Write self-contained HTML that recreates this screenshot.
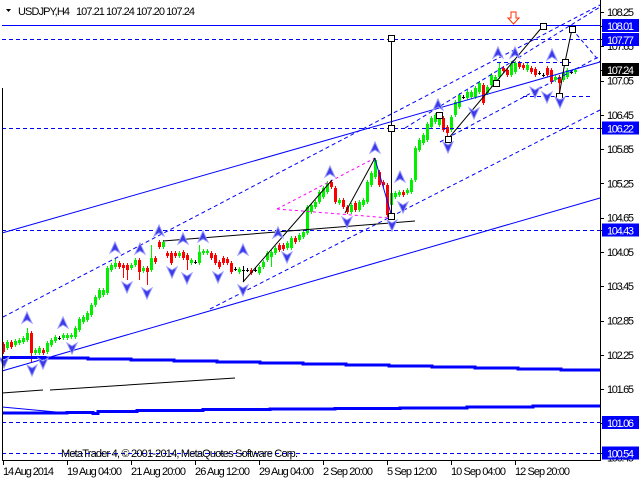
<!DOCTYPE html>
<html><head><meta charset="utf-8"><style>
html,body{margin:0;padding:0;background:#fff;}
svg{display:block;font-family:"Liberation Sans",sans-serif;}
</style></head><body>
<svg id="c" width="640" height="480" viewBox="0 0 640 480" xmlns="http://www.w3.org/2000/svg">
<rect width="640" height="480" fill="#fff"/>
<g id="candles"></g>
<g fill="none" stroke="#0000ff" stroke-width="1">
  <line x1="2" y1="25.5" x2="601" y2="25.5"/>
  <line x1="2" y1="39.5" x2="601" y2="39.5" stroke-dasharray="4,3"/>
  <line x1="2" y1="128.5" x2="601" y2="128.5" stroke-dasharray="4,3"/>
  <line x1="2" y1="230.5" x2="601" y2="230.5" stroke-dasharray="4,3"/>
  <line x1="2" y1="422.5" x2="601" y2="422.5" stroke-dasharray="4,3"/>
  <line x1="2" y1="453.5" x2="601" y2="453.5" stroke-dasharray="4,3"/>
  <line x1="497" y1="62.5" x2="572" y2="62.5" stroke-dasharray="4,3"/>
  <line x1="523" y1="96.5" x2="592" y2="96.5" stroke-dasharray="4,3"/>
  <line x1="2" y1="233" x2="600" y2="62"/>
  <line x1="2" y1="371" x2="600" y2="198"/>
  <line x1="3" y1="317" x2="600" y2="5" stroke-dasharray="4,3"/>
  <line x1="210" y1="309" x2="600" y2="110" stroke-dasharray="4,3"/>
  <line x1="405" y1="128" x2="600" y2="7" stroke-dasharray="4,3"/>
  <line x1="440" y1="142" x2="600" y2="56" stroke-dasharray="4,3"/>
  <line x1="572" y1="29" x2="600" y2="62" stroke-dasharray="4,3"/>
  <line x1="375" y1="159" x2="392" y2="217"/>
  <line x1="2" y1="407" x2="67" y2="413"/>
  <path stroke-width="3" d="M2,357.5 H45 V358 H88 V359 H131 V360 H174 V361 H217 V362 H260 V363 H303 V364 H346 V365 H389 V366 H432 V367 H475 V368 H518 V369 H561 V370 H601"/>
  <path stroke-width="3" d="M2,413 H67 V412.5 H93 V413.5 H98 V411.5 H137 V410.5 H203 V409.5 H270 V409 H335 V408.5 H400 V408 H467 V407 H533 V406 H601"/>
</g>
<g fill="none" stroke="#ff00ff" stroke-width="1" stroke-dasharray="3,3">
  <line x1="277" y1="209" x2="375" y2="158"/>
  <line x1="277" y1="209" x2="390" y2="218"/>
</g>
<g fill="none" stroke="#000" stroke-width="1">
  <line x1="2" y1="393" x2="43" y2="390"/>
  <line x1="50" y1="390" x2="235" y2="378"/>
  <line x1="163" y1="241" x2="415" y2="221"/>
  <line x1="243" y1="282" x2="332" y2="180"/>
  <line x1="345" y1="213" x2="375" y2="158"/>
  <line x1="391.5" y1="38" x2="391.5" y2="216"/>
  <line x1="448" y1="139" x2="543" y2="26"/>
  <polyline points="559,96 565,62 572,29"/>
  <rect x="388.5" y="35.5" width="6" height="6" fill="#fff"/>
  <rect x="388.5" y="125.5" width="6" height="6" fill="#fff"/>
  <rect x="388.5" y="213.5" width="6" height="6" fill="#fff"/>
  <rect x="540.5" y="23.5" width="6" height="6" fill="#fff"/>
  <rect x="569.5" y="26.5" width="6" height="6" fill="#fff"/>
  <rect x="562.5" y="59.5" width="6" height="6" fill="#fff"/>
  <rect x="556.5" y="93.5" width="6" height="6" fill="#fff"/>
  <rect x="445.5" y="136.5" width="6" height="6" fill="#fff"/>
  <rect x="436.5" y="112.5" width="6" height="6" fill="#fff"/>
  <rect x="493.5" y="80.5" width="6" height="6" fill="#fff"/>
</g>
<polygon points="511,12 516,12 516,18 519,18 513.5,24 508,18 511,18" fill="#fff" stroke="#ff3000" stroke-width="1"/>
<g id="arrows"></g>
<g stroke="#000" stroke-width="1" shape-rendering="crispEdges">
  <line x1="2.5" y1="88" x2="2.5" y2="461"/>
  <line x1="600.5" y1="0" x2="600.5" y2="461"/>
  <line x1="2" y1="460.5" x2="601" y2="460.5"/>
  <line x1="3.5" y1="460" x2="3.5" y2="465"/>
  <line x1="67.5" y1="460" x2="67.5" y2="465"/>
  <line x1="131.5" y1="460" x2="131.5" y2="465"/>
  <line x1="195.5" y1="460" x2="195.5" y2="465"/>
  <line x1="259.5" y1="460" x2="259.5" y2="465"/>
  <line x1="323.5" y1="460" x2="323.5" y2="465"/>
  <line x1="387.5" y1="460" x2="387.5" y2="465"/>
  <line x1="451.5" y1="460" x2="451.5" y2="465"/>
  <line x1="515.5" y1="460" x2="515.5" y2="465"/>
</g>
<g id="pticks" stroke="#000" stroke-width="1" shape-rendering="crispEdges"></g>
<g font-size="11" fill="#000">
  <text x="607" y="16" textLength="27">108.25</text>
  <text x="607" y="50" textLength="27">107.65</text>
  <text x="607" y="84.5" textLength="27">107.05</text>
  <text x="607" y="119" textLength="27">106.45</text>
  <text x="607" y="153" textLength="27">105.85</text>
  <text x="607" y="187.5" textLength="27">105.25</text>
  <text x="607" y="221.5" textLength="27">104.65</text>
  <text x="607" y="256" textLength="27">104.05</text>
  <text x="607" y="290" textLength="27">103.45</text>
  <text x="607" y="324.5" textLength="27">102.85</text>
  <text x="607" y="359" textLength="27">102.25</text>
  <text x="607" y="393" textLength="27">101.65</text>
  <text x="607" y="427" textLength="27">101.05</text>
  <text x="607" y="461.5" textLength="27">100.45</text>
</g>
<g>
  <rect x="602" y="19" width="37" height="13" fill="#0000ff"/>
  <rect x="602" y="33" width="37" height="13" fill="#0000ff"/>
  <rect x="602" y="63" width="37" height="13" fill="#000"/>
  <rect x="602" y="121.5" width="37" height="13" fill="#0000ff"/>
  <rect x="602" y="223.5" width="37" height="13" fill="#0000ff"/>
  <rect x="602" y="416" width="37" height="13" fill="#0000ff"/>
  <rect x="602" y="446.5" width="37" height="13" fill="#0000ff"/>
</g>
<g font-size="11" fill="#fff">
  <text x="607" y="30" textLength="27">108.01</text>
  <text x="607" y="44" textLength="27">107.77</text>
  <text x="607" y="74" textLength="27">107.24</text>
  <text x="607" y="132.5" textLength="27">106.22</text>
  <text x="607" y="234.5" textLength="27">104.43</text>
  <text x="607" y="427" textLength="27">101.06</text>
  <text x="607" y="457.5" textLength="27">100.54</text>
</g>
<g font-size="11" fill="#000">
  <text x="3" y="475" textLength="51">14 Aug 2014</text>
  <text x="67" y="475" textLength="55">19 Aug 04:00</text>
  <text x="131" y="475" textLength="55">21 Aug 20:00</text>
  <text x="195" y="475" textLength="55">26 Aug 12:00</text>
  <text x="259" y="475" textLength="55">29 Aug 04:00</text>
  <text x="323" y="475" textLength="50">2 Sep 20:00</text>
  <text x="387" y="475" textLength="50">5 Sep 12:00</text>
  <text x="451" y="475" textLength="55">10 Sep 04:00</text>
  <text x="515" y="475" textLength="55">12 Sep 20:00</text>
  <text x="61" y="457" textLength="237">MetaTrader 4, © 2001-2014, MetaQuotes Software Corp.</text>
  <polygon points="6,9 11,9 8.5,12" fill="#000"/>
  <text x="18" y="15" textLength="52">USDJPY,H4</text>
  <text x="76" y="15" textLength="119">107.21 107.24 107.20 107.24</text>
</g>
</svg>
<script>
(function(){
var D=[[344,352,342,354],[348,342],[342,347],[345,341],[343,340],[342,338],[340,333,328],[333,353,331,363],[353,350],[353,348],
[350,353],[352,343],[345,340],[341,337],[338,338],[338,335],[338,335],[337,335],[337,328],[330,319],
[322,317],[320,313],[315,305],[305,297],[298,290],[295,290],[293,268,266],[270,265],[267,263,258],[263,267],
[265,268,263,278],[265,270,263,280],[268,265],[265,260],[260,272,258,280],[271,268],[268,272,266,285],[270,258,245],[258,262],[242,247],
[247,242,240],[253,256],[253,263],[253,256],[256,253],[252,258],[255,260,253,270],[263,260],[262,262],[263,252,245],
[253,251],[253,251],[253,258],[255,263],[262,267],[258,263],[259,263],[263,272],[269,269],[272,269],
[270,270,266,282],[270,270],[270,273],[270,270],[273,267],[267,262],[260,253],[257,252,250,267],[253,248],[245,250],
[245,249],[248,243],[248,238],[238,242],[240,235],[237,232],[233,207],[212,205],[207,202],[202,192],
[197,188],[192,183],[182,187,180],[188,202],[203,200],[200,207],[207,212],[212,205],[203,210],[210,202],
[205,200],[202,182],[185,173],[177,160,158],[172,185],[182,185],[185,215,183,217],[205,193],[197,193],[195,192],
[192,195],[193,190],[192,180],[180,148],[150,140],[143,135],[140,124],[127,118],[122,115],[125,116],
[118,130],[127,133,125,140],[130,117],[115,102],[107,95],[97,97],[98,92],[97,92],[97,88],[92,83],
[85,103],[93,87],[85,75],[83,77],[77,68,62],[68,71],[70,75],[75,63],[72,63],[63,67],
[65,68],[70,65],[68,72],[69,75],[73,73],[75,75],[68,75],[70,82],[80,77],[77,83,75,95],
[80,73],[77,70],[72,72],[72,70]];
var s='';
for(var k=0;k<D.length;k++){
 var d=D[k],o=d[0],c=d[1],t=Math.min(o,c),b=Math.max(o,c);
 var h=d[2]!==undefined?d[2]:t-2,l=d[3]!==undefined?d[3]:b+2;
 var x=4*k+2;
 var col=o>c?'#00f000':(o<c?'#ff0000':'#000000');
 s+='<rect x="'+(x+1)+'" y="'+h+'" width="1" height="'+(l-h)+'" fill="'+col+'"/>';
 if(o===c){s+='<rect x="'+x+'" y="'+o+'" width="3" height="1" fill="#000"/>';}
 else{s+='<rect x="'+x+'" y="'+t+'" width="3" height="'+Math.max(1,b-t)+'" fill="'+col+'"/>';}
}
document.getElementById('candles').innerHTML=s;
var U=[[27,318],[63,323],[115,248],[140,249],[159,231],[183,239],[203,237],[243,250],[278,233],[330,172],[375,148],[400,177],[438,105],[498,53],[515,53],[552,55]];
var W=[[4,362],[32,370],[43,363],[72,348],[127,287],[147,293],[172,272],[187,278],[218,277],[243,290],[287,257],[347,222],[392,225],[403,207],[448,147],[474,113],[535,92],[547,97],[560,102]];
var a='';
U.forEach(function(p){var x=p[0],y=p[1];
 a+='<polygon points="'+x+','+(y-6)+' '+(x+5)+','+(y+5)+' '+x+','+(y+2)+' '+(x-5)+','+(y+5)+'" fill="#3a3ae8" stroke="#9a9aff" stroke-width="1"/>';});
W.forEach(function(p){var x=p[0],y=p[1];
 a+='<polygon points="'+x+','+(y+6)+' '+(x+5)+','+(y-5)+' '+x+','+(y-2)+' '+(x-5)+','+(y-5)+'" fill="#3a3ae8" stroke="#9a9aff" stroke-width="1"/>';});
document.getElementById('arrows').innerHTML=a;
var ys=[12,25.7,39.4,46.3,69.7,80.5,114.8,128,149,183.4,217.7,230,252,286.2,320.5,354.8,389,422.7,453];
var tk='';ys.forEach(function(y){var yy=Math.round(y)+0.5;tk+='<line x1="601" y1="'+yy+'" x2="604" y2="'+yy+'"/>';});
document.getElementById('pticks').innerHTML=tk;
})();
</script>
</body></html>
